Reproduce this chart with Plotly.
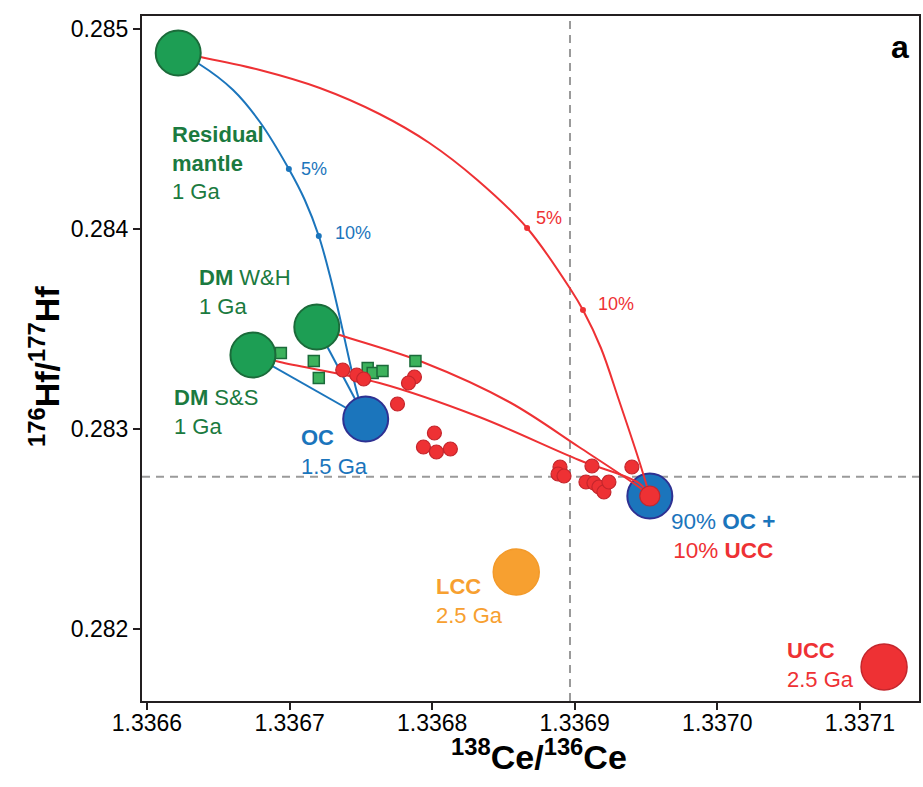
import plotly.graph_objects as go

# ---------------- data ----------------
# end-member / reservoir compositions (138Ce/136Ce, 176Hf/177Hf)
rm_x, rm_y = 1.3366219, 0.2848815          # Residual mantle 1 Ga
dmwh_x, dmwh_y = 1.3367191, 0.2835115      # DM W&H 1 Ga
dmss_x, dmss_y = 1.3366743, 0.2833715      # DM S&S 1 Ga
oc_x, oc_y = 1.3367534, 0.2830515          # OC 1.5 Ga
mix_x, mix_y = 1.3369527, 0.2826665        # 90% OC + 10% UCC
lcc_x, lcc_y = 1.3368590, 0.2822865        # LCC 2.5 Ga
ucc_x, ucc_y = 1.3371170, 0.2818115        # UCC 2.5 Ga

# mixing curve residual mantle -> OC (blue)
blue_curve_x = [1.3366219, 1.3366366, 1.3366604, 1.3366792, 1.3366995, 1.3367107,
                1.3367205, 1.3367282, 1.3367352, 1.3367422, 1.3367478, 1.3367534]
blue_curve_y = [0.2848815, 0.2848265, 0.2846965, 0.2845365, 0.2843015, 0.2841465,
                0.2839665, 0.2837715, 0.2835615, 0.2833365, 0.2831715, 0.2830515]

# mixing curve residual mantle -> mix (red)
red_curve1_x = [1.3366219, 1.3366373, 1.3366792, 1.3367212, 1.3367631, 1.3367981, 1.3368317,
                1.3368666, 1.3368974, 1.3369058, 1.3369184, 1.3369310, 1.3369450, 1.3369527]
red_curve1_y = [0.2848815, 0.2848615, 0.2847965, 0.2847065, 0.2845765, 0.2844315, 0.2842465,
                0.2840065, 0.2836965, 0.2835965, 0.2834065, 0.2831465, 0.2828465, 0.2826665]

# mixing curve DM W&H -> mix (red)
red_curve2_x = [1.3367191, 1.3367352, 1.3367932, 1.3368541, 1.3369030, 1.3369450, 1.3369527]
red_curve2_y = [0.2835115, 0.2834715, 0.2833365, 0.2831365, 0.2829115, 0.2827115, 0.2826665]

# mixing curve DM S&S -> mix (red)
red_curve3_x = [1.3366743, 1.3366932, 1.3367631, 1.3368331, 1.3369030, 1.3369450, 1.3369527]
red_curve3_y = [0.2833715, 0.2833365, 0.2832315, 0.2830615, 0.2828465, 0.2827315, 0.2826665]

# percentage ticks on the curves
blue_pct_x = [1.3366995, 1.3367205]
blue_pct_y = [0.2843015, 0.2839665]
red_pct_x = [1.3368666, 1.3369058]
red_pct_y = [0.2840065, 0.2835965]
pct_labels = ["5%", "10%"]

# measured samples (red circles)
sample_x = [1.3367373, 1.3367471, 1.3367520, 1.3367876, 1.3367834, 1.3367757, 1.3368016,
            1.3367939, 1.3368030, 1.3368128, 1.3368897, 1.3368883, 1.3368925, 1.3369121,
            1.3369079, 1.3369135, 1.3369170, 1.3369205, 1.3369240, 1.3369401]
sample_y = [0.2832965, 0.2832715, 0.2832515, 0.2832615, 0.2832315, 0.2831265, 0.2829815,
            0.2829115, 0.2828865, 0.2829015, 0.2828115, 0.2827765, 0.2827665, 0.2828165,
            0.2827365, 0.2827315, 0.2827115, 0.2826865, 0.2827365, 0.2828115]

# green squares
sq_x = [1.3366939, 1.3367170, 1.3367205, 1.3367548, 1.3367583, 1.3367652, 1.3367883]
sq_y = [0.2833815, 0.2833415, 0.2832565, 0.2833065, 0.2832815, 0.2832915, 0.2833415]

# reference dashed lines
ref_x = 1.3368967
ref_y = 0.282763

x_ticks = [1.3366, 1.3367, 1.3368, 1.3369, 1.3370, 1.3371]
y_ticks = [0.282, 0.283, 0.284, 0.285]
x_range = [1.3365965, 1.3371415]
y_range = [0.2816415, 0.2850665]

# ---------------- style ----------------
GREEN = "#1d9e54"
GREEN_EDGE = "#1b6b3a"
GREEN_TXT = "#1b7a40"
SQ_FILL = "#3db25c"
BLUE = "#1b75bc"
BLUE_EDGE = "#2e3192"
RED = "#ee3134"
RED_EDGE = "#c4262c"
ORANGE = "#f7a030"
AX = "#231f20"
FONT = "Liberation Sans, Arial, Helvetica, sans-serif"

fig = go.Figure()

def line(x, y, color, shape="spline"):
    fig.add_trace(go.Scatter(x=x, y=y, mode="lines", line=dict(color=color, width=2, shape=shape,
                             smoothing=1.0), hoverinfo="skip", showlegend=False))

def circle(x, y, size, fill, edge, lw=1.5, symbol="circle"):
    fig.add_trace(go.Scatter(x=x, y=y, mode="markers",
                             marker=dict(size=size, color=fill, symbol=symbol,
                                         line=dict(color=edge, width=lw)),
                             hoverinfo="skip", showlegend=False))

# mixture big blue circle under the lines
circle([mix_x], [mix_y], 45, BLUE, BLUE_EDGE, 2)

# straight blue lines DM -> OC
line([dmwh_x, oc_x], [dmwh_y, oc_y], BLUE, "linear")
line([dmss_x, oc_x], [dmss_y, oc_y], BLUE, "linear")
# curves
line(blue_curve_x, blue_curve_y, BLUE)
line(red_curve1_x, red_curve1_y, RED)
line(red_curve2_x, red_curve2_y, RED)
line(red_curve3_x, red_curve3_y, RED)

# percentage dots
circle(blue_pct_x, blue_pct_y, 6, BLUE, BLUE, 0)
circle(red_pct_x, red_pct_y, 6, RED, RED, 0)

# squares and samples
circle(sq_x, sq_y, 11, SQ_FILL, GREEN_EDGE, 1.5, "square")
circle(sample_x, sample_y, 14, RED, RED_EDGE, 1.2)

# reservoirs
circle([rm_x, dmwh_x, dmss_x], [rm_y, dmwh_y, dmss_y], 45, GREEN, GREEN_EDGE, 2)
circle([oc_x], [oc_y], 45, BLUE, BLUE_EDGE, 2)
circle([lcc_x], [lcc_y], 46, ORANGE, "#f39a2a", 1.5)
circle([ucc_x], [ucc_y], 46, RED, RED_EDGE, 1.5)
circle([mix_x], [mix_y], 20, RED, RED_EDGE, 1.2)

# ---------------- annotations ----------------
ann = []
def label(x, y, text, color, size=22, xanchor="left", align="left"):
    ann.append(dict(x=x, y=y, xref="x", yref="y", text=text, showarrow=False,
                    xanchor=xanchor, yanchor="middle", align=align,
                    font=dict(family=FONT, size=size, color=color)))

label(1.3366163, 0.2843315, "<b>Residual<br>mantle</b><br>1 Ga", GREEN_TXT)
label(1.3366352, 0.2836865, "<b>DM</b> W&H<br>1 Ga", GREEN_TXT)
label(1.3366177, 0.2830865, "<b>DM</b> S&S<br>1 Ga", GREEN_TXT)
label(1.3367065, 0.2828890, "<b>OC</b><br>1.5 Ga", BLUE)
label(1.3368016, 0.2821415, "<b>LCC</b><br>2.5 Ga", ORANGE)
label(1.3370478, 0.2818240, "<b>UCC</b><br>2.5 Ga", RED)
label(1.3370040, 0.2824665,
      f"<span style='color:{BLUE}'>90% <b>OC +</b></span><br>"
      f"<span style='color:{RED}'>10% <b>UCC</b></span>", BLUE, 22.5, "center", "center")

# percent labels
label(1.3367065, 0.2843015, pct_labels[0], BLUE, 18)
label(1.3367303, 0.2839815, pct_labels[1], BLUE, 18)
label(1.3368715, 0.2840565, pct_labels[0], RED, 18)
label(1.3369149, 0.2836265, pct_labels[1], RED, 18)

# panel letter
ann.append(dict(x=1.3371360, y=0.2849115, xref="x", yref="y", text="<b>a</b>", showarrow=False,
                xanchor="right", yanchor="middle", font=dict(family=FONT, size=32, color="black")))

# axis titles
ann.append(dict(x=1.3368750, y=0, xref="x", yref="paper", yanchor="top",
                yshift=-30, text="<b><sup>138</sup>Ce/<sup>136</sup>Ce</b>", showarrow=False,
                font=dict(family=FONT, size=34, color="black")))
ann.append(dict(x=0, y=0.2833115, xref="paper", yref="y", xanchor="center", xshift=-98,
                text="<b><sup>176</sup>Hf/<sup>177</sup>Hf</b>", showarrow=False, textangle=-90,
                font=dict(family=FONT, size=34, color="black")))

shapes = [
    dict(type="line", xref="x", yref="paper", x0=ref_x, x1=ref_x, y0=0, y1=1,
         line=dict(color="#9a9a9a", width=2, dash="8px,6px"), layer="below"),
    dict(type="line", xref="paper", yref="y", x0=0, x1=1, y0=ref_y, y1=ref_y,
         line=dict(color="#9a9a9a", width=2, dash="8px,6px"), layer="below"),
]

axis_common = dict(showgrid=False, zeroline=False, showline=True, linecolor=AX, linewidth=2,
                   mirror=True, ticks="outside", ticklen=7, tickwidth=1.5, tickcolor=AX,
                   tickfont=dict(family=FONT, size=23, color="black"))

fig.update_layout(
    width=923, height=787,
    margin=dict(l=142, r=2, t=16, b=86),
    paper_bgcolor="white", plot_bgcolor="white",
    xaxis=dict(range=x_range, tickvals=x_ticks, tickformat=".4f", ticklabelstandoff=-7,
               **axis_common),
    yaxis=dict(range=y_range, tickvals=y_ticks, tickformat=".3f", **axis_common),
    annotations=ann, shapes=shapes, showlegend=False,
)

fig.write_html("out.html")
